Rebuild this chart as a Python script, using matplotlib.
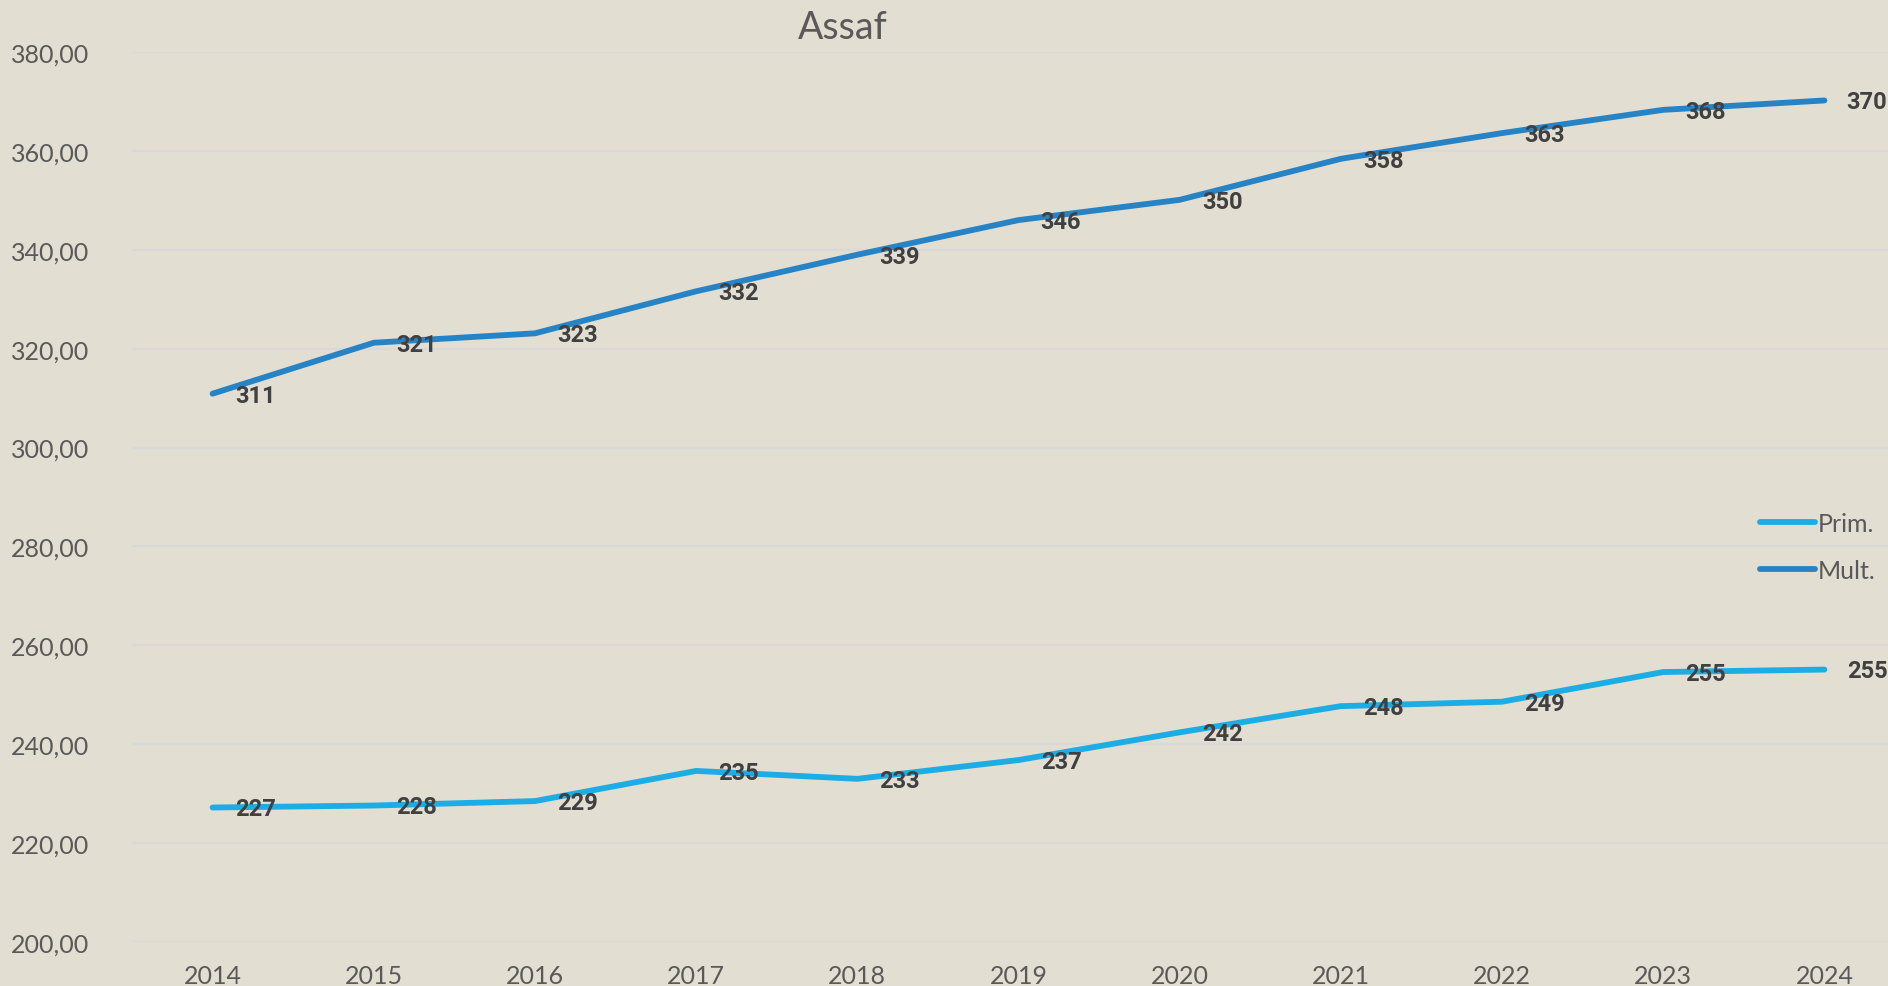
import matplotlib.pyplot as plt
import numpy as np

years = ['2014', '2015', '2016', '2017', '2018', '2019', '2020', '2021', '2022', '2023', '2024']
prim = [227.2, 227.6, 228.5, 234.6, 233.0, 236.8, 242.4, 247.7, 248.6, 254.6, 255.1]
mult = [310.9, 321.2, 323.1, 331.6, 339.0, 346.0, 350.1, 358.4, 363.6, 368.3, 370.2]
prim_labels = ['227', '228', '229', '235', '233', '237', '242', '248', '249', '255', '255']
mult_labels = ['311', '321', '323', '332', '339', '346', '350', '358', '363', '368', '370']

bg = '#e3ded2'
txt = '#595959'
lab = '#404040'
c_prim = '#1cade4'
c_mult = '#2683c6'

plt.rcParams['font.family'] = ['Lato', 'DejaVu Sans']

fig = plt.figure(figsize=(18.88, 9.87), dpi=100, facecolor=bg)
ax = fig.add_axes([132/1888, 44/987, 1773/1888, 890/987])
ax.set_facecolor(bg)

x = np.arange(len(years))
ax.plot(x, prim, color=c_prim, lw=4.2, solid_capstyle='round', label='Prim.', zorder=3)
ax.plot(x, mult, color=c_mult, lw=4.2, solid_capstyle='round', label='Mult.', zorder=3)

for i in range(len(x)):
    ax.annotate(prim_labels[i], (x[i], prim[i]), xytext=(16, -1), textcoords='offset points',
                ha='left', va='center', fontsize=17, fontweight='bold', color=lab, zorder=4,
                family=['Roboto', 'DejaVu Sans'])
    ax.annotate(mult_labels[i], (x[i], mult[i]), xytext=(16, -1), textcoords='offset points',
                ha='left', va='center', fontsize=17, fontweight='bold', color=lab, zorder=4,
                family=['Roboto', 'DejaVu Sans'])

ax.set_xlim(-0.5, 10.5)
ax.set_ylim(200, 380)
ax.set_yticks(np.arange(200, 381, 20))
ax.set_yticklabels(['%d,00' % v for v in range(200, 381, 20)])
ax.set_xticks(x)
ax.set_xticklabels(years)
ax.tick_params(axis='both', length=0, labelsize=18, labelcolor=txt)
ax.tick_params(axis='y', pad=31)
ax.tick_params(axis='x', pad=16)
ax.grid(axis='y', color='#d9d9d9', lw=1.5, zorder=0)
for s in ax.spines.values():
    s.set_visible(False)

fig.text(843/1888, 1 - 28/987, 'Assaf', ha='center', va='center', fontsize=27, color=txt)

leg = ax.legend(loc='center left', frameon=False, fontsize=18, handlelength=2.2,
                handletextpad=0.15, labelspacing=0.95, labelcolor=txt)
leg.set_bbox_to_anchor((1737/1888, 1 - 548/987), transform=fig.transFigure)

fig.savefig('out.png', dpi=100, facecolor=bg)
